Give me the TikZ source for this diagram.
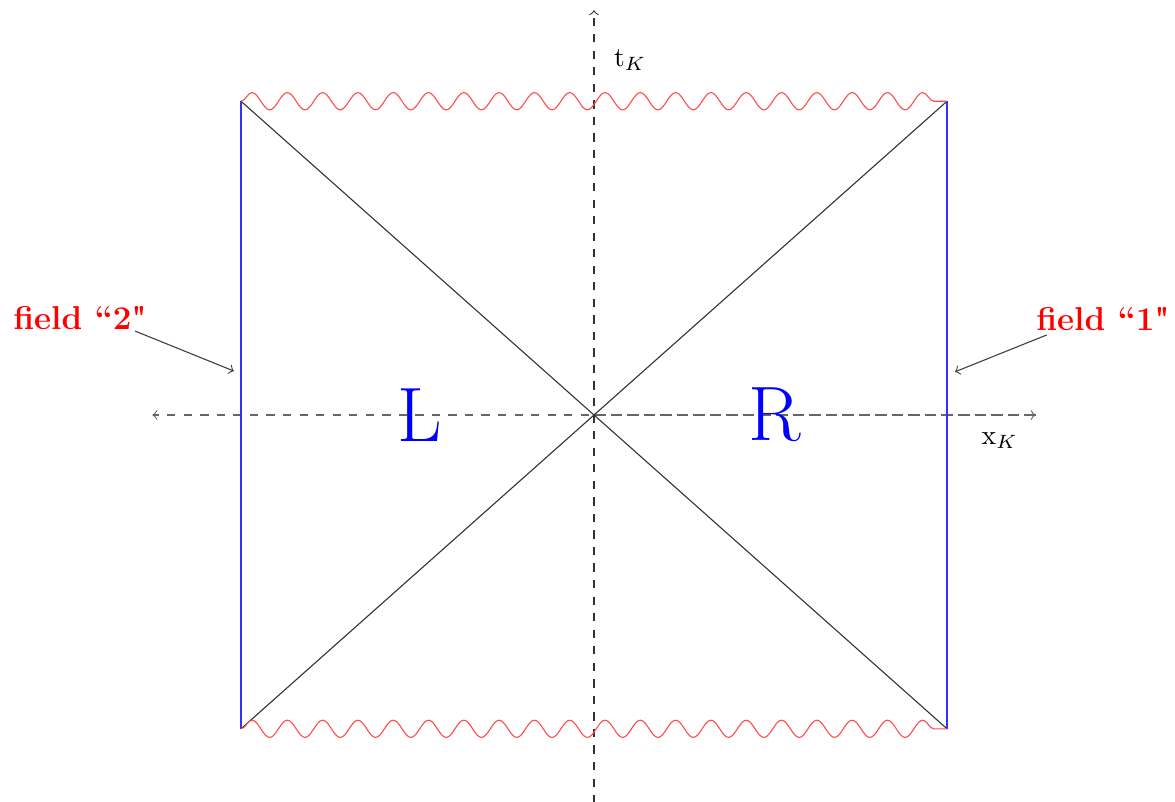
\documentclass[tikz,border=0pt]{standalone}
\usepackage{fontspec}
\usetikzlibrary{decorations.pathmorphing}
\begin{document}
\begin{tikzpicture}[x=1cm,y=1cm,
  wavy/.style={red!70,decorate,decoration={snake,segment length=0.45cm,amplitude=0.11cm}},
  bound/.style={blue!80},
  horizon/.style={black!80},
  axisline/.style={dashed,->},
  region/.style={blue,font=\fontsize{28pt}{30pt}\selectfont},
  fieldlbl/.style={red,font=\large\bfseries},
  pointer/.style={->,black!75}]
\useasboundingbox (-7.572,-4.921) rectangle (7.406,5.290);
% corners
\coordinate (TL) at (-4.5,4);
\coordinate (TR) at (4.5,4);
\coordinate (BL) at (-4.5,-4);
\coordinate (BR) at (4.5,-4);
\coordinate (O) at (0,0);
% axes
\coordinate (xa) at (-5.63,0);
\coordinate (xb) at (5.63,0);
\coordinate (ya) at (0,-4.95);
\coordinate (yb) at (0,5.16);
\draw[axisline,black!60] (xb) -- (xa);
\draw[axisline,black!60] (O) -- (xb);
\draw[axisline,black!80] (ya) -- (yb);
% boundaries
\draw[bound] (TL) -- (BL);
\draw[bound] (TR) -- (BR);
\draw[horizon] (TL) -- (BR);
\draw[horizon] (BL) -- (TR);
\draw[wavy] (TL) -- (TR);
\draw[wavy] (BL) -- (BR);
% labels
\node (tk) at (0.46,4.52) {t$_K$};
\node (xk) at (5.17,-0.33) {x$_K$};
\node[region] (L) at (-2.22,0) {L};
\node[region] (R) at (2.30,0) {R};
\node[fieldlbl] (f2) at (-6.55,1.24) {field ``2\textquotedbl};
\node[fieldlbl] (f1) at (6.49,1.22) {field ``1\textquotedbl};
\coordinate (s2) at (-5.85,1.07);
\coordinate (s1) at (5.77,1.02);
\coordinate (p2) at (-4.59,0.56);
\coordinate (p1) at (4.60,0.55);
\draw[pointer] (s2) -- (p2);
\draw[pointer] (s1) -- (p1);
\end{tikzpicture}
\end{document}
